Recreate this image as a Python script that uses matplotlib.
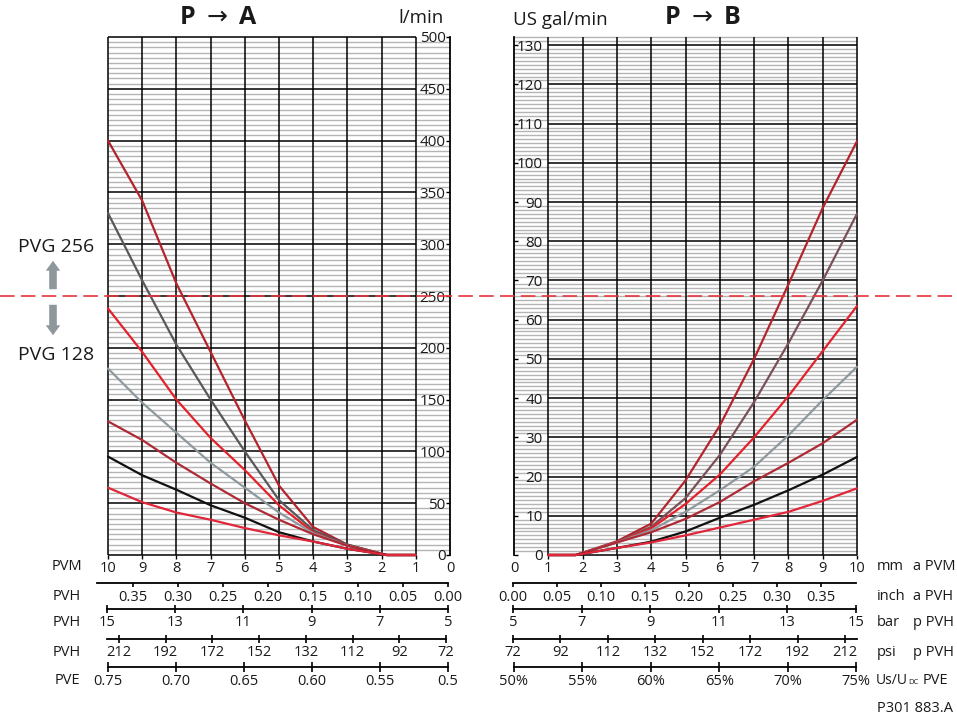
import numpy as np
import matplotlib
matplotlib.use("Agg")
import matplotlib.pyplot as plt
from matplotlib.transforms import blended_transform_factory
from matplotlib.lines import Line2D

plt.rcParams['font.family'] = ['Open Sans', 'DejaVu Sans']
plt.rcParams['mathtext.fontset'] = 'dejavusans'
plt.rcParams['lines.scale_dashes'] = False

# ---------------- data ----------------
# P -> A : spool travel (mm) vs flow (l/min)
spool_A = [10, 9, 8, 7, 6, 5, 4, 3, 1.85, 1]
qA_1 = [400, 342, 262, 196, 130, 67, 27, 10, 0, 0]
qA_2 = [330, 265, 203, 150, 100, 53, 24, 10, 0, 0]
qA_3 = [238, 196, 150, 113, 82, 48, 22, 9, 0, 0]
qA_4 = [180, 147, 118, 89, 65, 41, 21, 9, 0, 0]
qA_5 = [129, 111, 89, 69, 50, 34, 20, 9, 0, 0]
qA_6 = [95, 77, 63, 48, 36, 22, 13, 6, 0, 0]
qA_7 = [65, 51, 41, 34, 26, 19, 13, 6, 0, 0]

# P -> B : spool travel (mm) vs flow (US gal/min)
spool_B = [1, 1.8, 3, 4, 5, 6, 7, 8, 9, 10]
qB_1 = [0, 0, 3.5, 8.0, 19.0, 33.0, 50.0, 69.0, 88.5, 105.5]
qB_2 = [0, 0, 3.3, 7.2, 14.5, 25.5, 39.0, 54.0, 70.0, 87.0]
qB_3 = [0, 0, 3.2, 6.8, 13.0, 20.5, 30.0, 40.5, 52.0, 63.5]
qB_4 = [0, 0, 3.2, 6.3, 11.0, 16.5, 22.5, 30.5, 39.5, 48.0]
qB_5 = [0, 0, 3.2, 5.8, 9.2, 13.5, 18.8, 23.5, 28.5, 34.5]
qB_6 = [0, 0, 1.8, 3.4, 6.0, 9.5, 12.8, 16.5, 20.5, 25.0]
qB_7 = [0, 0, 1.8, 3.2, 5.0, 7.0, 9.0, 11.0, 13.8, 17.0]

colors_A = ['#b3232c', '#58585a', '#e3202b', '#8e999e', '#ae2a35', '#111111', '#e2263a']
colors_B = ['#b3232c', '#7a5058', '#e3202b', '#8e999e', '#ae2a35', '#111111', '#e2263a']

pvm_mm = list(range(0, 11))
lpm_ticks = list(range(0, 501, 50))
gal_ticks = list(range(0, 131, 10))
LPM_MAX = 500
GAL_MAX = 500 / 3.78541
PVG_SPLIT = 250  # l/min

inch_A = [0.35, 0.30, 0.25, 0.20, 0.15, 0.10, 0.05, 0.00]
bar_A = [15, 13, 11, 9, 7, 5]
psi_A = [212, 192, 172, 152, 132, 112, 92, 72]
pve_A = [0.75, 0.70, 0.65, 0.60, 0.55, 0.50]
pve_A_lbl = ['0.75', '0.70', '0.65', '0.60', '0.55', '0.5']

inch_B = [0.00, 0.05, 0.10, 0.15, 0.20, 0.25, 0.30, 0.35]
bar_B = [5, 7, 9, 11, 13, 15]
psi_B = [72, 92, 112, 132, 152, 172, 192, 212]
pve_B = [50, 55, 60, 65, 70, 75]

# ---------------- figure ----------------
W, H = 957, 722
fig = plt.figure(figsize=(W / 100, H / 100), dpi=100)
fig.patch.set_facecolor('white')


def rect(px0, px1, py_top, py_bot):
    return [px0 / W, 1 - py_bot / H, (px1 - px0) / W, (py_bot - py_top) / H]


GRID_LW = 1.1
MINOR_C = '#b5b5b5'
TXT = '#1a1a1a'

# ---- left chart P->A ----
axL = fig.add_axes(rect(108, 450, 37, 555))
axL.set_xlim(10, 0)
axL.set_ylim(0, LPM_MAX)
for s in ['top', 'bottom', 'left']:
    axL.spines[s].set_visible(False)
axL.spines['right'].set_linewidth(1.3)
for y in np.arange(5, LPM_MAX, 5):
    if y % 50:
        axL.hlines(y, 10, 0, color=MINOR_C, lw=1.0, zorder=1, clip_on=False)
for y in lpm_ticks:
    axL.hlines(y, 10, 1, color='k', lw=GRID_LW, zorder=2, clip_on=False)
for x in range(1, 11):
    axL.vlines(x, 0, LPM_MAX, color='k', lw=GRID_LW, zorder=2, clip_on=False)
for q, c in zip([qA_1, qA_2, qA_3, qA_4, qA_5, qA_6, qA_7], colors_A):
    axL.plot(spool_A, q, color=c, lw=1.6, zorder=3, solid_joinstyle='round',
             solid_capstyle='round', clip_on=False)
axL.set_xticks(pvm_mm, [str(v) for v in pvm_mm])
axL.tick_params(axis='x', bottom=True, direction='out', length=3, width=1,
                pad=1.5, labelsize=10.5, labelcolor=TXT)
for t in axL.xaxis.get_major_ticks():
    if t.get_loc() == 0:
        t.tick1line.set_visible(False)
axL.yaxis.tick_right()
axL.set_yticks(lpm_ticks, [str(v) for v in lpm_ticks])
axL.tick_params(axis='y', right=True, left=False, labelright=True, labelleft=False,
                direction='in', length=3, width=1, pad=-3.2, labelsize=11, labelcolor=TXT)
for t in axL.yaxis.get_major_ticks():
    t.label2.set_horizontalalignment('right')

# ---- right chart P->B ----
axR = fig.add_axes(rect(514, 857, 37, 555))
axR.set_xlim(0, 10)
axR.set_ylim(0, GAL_MAX)
for s in ['top', 'bottom', 'right']:
    axR.spines[s].set_visible(False)
axR.spines['left'].set_linewidth(1.3)
for y in np.arange(1, GAL_MAX, 1):
    if y % 10:
        axR.hlines(y, 0, 10, color=MINOR_C, lw=1.0, zorder=1, clip_on=False)
for y in gal_ticks:
    axR.hlines(y, 1, 10, color='k', lw=GRID_LW, zorder=2, clip_on=False)
for x in range(1, 11):
    axR.vlines(x, 0, GAL_MAX, color='k', lw=GRID_LW, zorder=2, clip_on=False)
for q, c in zip([qB_1, qB_2, qB_3, qB_4, qB_5, qB_6, qB_7], colors_B):
    axR.plot(spool_B, q, color=c, lw=1.6, zorder=3, solid_joinstyle='round',
             solid_capstyle='round', clip_on=False)
axR.set_xticks(pvm_mm, [str(v) for v in pvm_mm])
axR.tick_params(axis='x', bottom=True, direction='out', length=3, width=1,
                pad=1.5, labelsize=10.5, labelcolor=TXT)
for t in axR.xaxis.get_major_ticks():
    if t.get_loc() == 0:
        t.tick1line.set_visible(False)
axR.set_yticks(gal_ticks, [str(v) for v in gal_ticks])
axR.tick_params(axis='y', left=True, right=False, direction='in', length=3, width=1,
                pad=-20.6, labelsize=11, labelcolor=TXT)
for t in axR.yaxis.get_major_ticks():
    t.label1.set_horizontalalignment('right')


# ---- secondary scales ----
def scale_row(px0, px1, py, vals, labels, tick_px_first, tick_px_last, direction, length):
    v0, v1 = vals[0], vals[-1]
    slope = (v1 - v0) / (tick_px_last - tick_px_first)
    a = fig.add_axes(rect(px0, px1, py - 1, py))
    a.set_xlim(v0 + slope * (px0 - tick_px_first), v0 + slope * (px1 - tick_px_first))
    a.set_ylim(0, 1)
    for s in ['top', 'left', 'right']:
        a.spines[s].set_visible(False)
    a.spines['bottom'].set_linewidth(1.3)
    a.patch.set_visible(False)
    a.set_yticks([])
    a.set_xticks(vals, labels)
    pad = 2.0 if direction == 'out' else 1.2
    a.tick_params(axis='x', direction=direction, length=length, width=1.2,
                  pad=pad, labelsize=10.5, labelcolor=TXT)
    return a


scale_row(97, 448, 583, inch_A, [f'{v:.2f}' for v in inch_A], 133, 448, 'out', 3)
scale_row(107, 448, 609, bar_A, [str(v) for v in bar_A], 107, 448, 'inout', 6)
scale_row(107, 446, 639, psi_A, [str(v) for v in psi_A], 119, 446, 'inout', 6)
scale_row(108, 448, 667, pve_A, pve_A_lbl, 108, 448, 'inout', 7)

scale_row(513, 856, 583, inch_B, [f'{v:.2f}' for v in inch_B], 513, 821, 'out', 3)
scale_row(513, 856, 609, bar_B, [str(v) for v in bar_B], 513, 856, 'inout', 6)
scale_row(513, 857, 639, psi_B, [str(v) for v in psi_B], 513, 845, 'inout', 6)
scale_row(514, 856, 667, pve_B, [f'{v}%' for v in pve_B], 514, 856, 'inout', 7)


# ---- texts ----
def ftext(px, py, s, **kw):
    kw.setdefault('color', TXT)
    return fig.text(px / W, 1 - py / H, s, **kw)


ftext(218, 18, r'P $\rightarrow$ A', fontsize=18, fontweight='bold', ha='center', va='center')
ftext(702, 18, r'P $\rightarrow$ B', fontsize=18, fontweight='bold', ha='center', va='center')
ftext(444, 18, 'l/min', fontsize=13.5, ha='right', va='center')
ftext(513, 20, 'US gal/min', fontsize=13.5, ha='left', va='center')

ftext(56, 247, 'PVG 256', fontsize=14, ha='center', va='center')
ftext(56, 355, 'PVG 128', fontsize=14, ha='center', va='center')

row_y = [567, 596, 622, 652, 680]
for y, s in zip(row_y, ['PVM', 'PVH', 'PVH', 'PVH', 'PVE']):
    ftext(67, y, s, fontsize=10.5, ha='center', va='center')
for y, u, p in zip(row_y[:4], ['mm', 'inch', 'bar', 'psi'],
                   ['a PVM', 'a PVH', 'p PVH', 'p PVH']):
    ftext(877, y, u, fontsize=10.5, ha='left', va='center')
    ftext(913, y, p, fontsize=10.5, ha='left', va='center')

# "Us/U" + small "DC" + "PVE"
us = ftext(876, 680, 'Us/U', fontsize=10, ha='left', va='center')
fig.canvas.draw()
bb = us.get_window_extent()
x_dc = bb.x1 + 0.5
dc = fig.text(x_dc / W, 1 - 683 / H, 'DC', fontsize=5.5, ha='left', va='center', color=TXT)
fig.canvas.draw()
bb2 = dc.get_window_extent()
ftext(max(913, bb2.x1 + 4), 680, 'PVE', fontsize=10.5, ha='left', va='center')

ftext(877, 709, 'P301 883.A', fontsize=10.5, ha='left', va='center')

# ---- grey arrows ----
arrow_c = '#8d979c'
for y0, y1 in [(292, 258), (302, 338)]:
    fig.add_artist(matplotlib.patches.FancyArrowPatch(
        (53, H - y0), (53, H - y1), transform=None,
        arrowstyle='simple,head_width=0.8,head_length=0.55,tail_width=0.42',
        mutation_scale=13, color=arrow_c, lw=0))

# ---- PVG 256 / 128 split line ----
tr = blended_transform_factory(fig.transFigure, axL.transData)
split = Line2D([0, 1], [PVG_SPLIT, PVG_SPLIT], transform=tr, color='#e8343c',
               lw=1.2, zorder=10)
split.set_dashes((10.5, 4.5))
fig.add_artist(split)

fig.savefig('out.png', dpi=100, facecolor='white')
